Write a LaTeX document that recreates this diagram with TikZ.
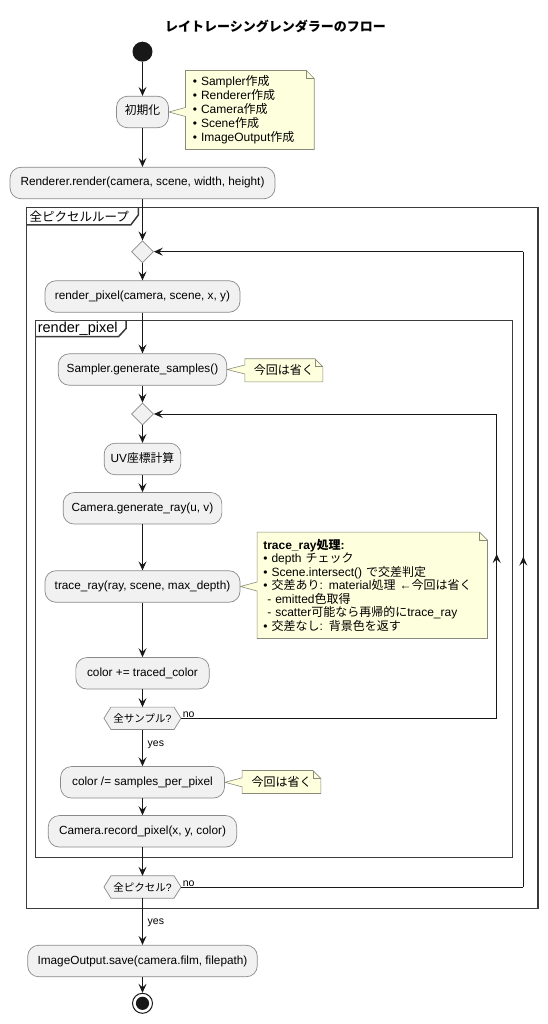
\documentclass[tikz,border=0pt]{standalone}
\usepackage{fontspec}
\setmainfont{Liberation Sans}
\newfontfamily\jp{Noto Sans CJK JP}
\newcommand\J[1]{{\jp #1}}
\usetikzlibrary{arrows.meta,shapes.geometric,calc,backgrounds,decorations.markings}
\definecolor{boxfill}{HTML}{F1F1F1}
\definecolor{boxline}{HTML}{8A8A8A}
\definecolor{ink}{HTML}{181818}
\definecolor{notefill}{HTML}{FEFFDD}
\definecolor{noteline}{HTML}{8A8A7A}
\tikzset{
  actbox/.style={draw=boxline, fill=boxfill, rounded corners=11pt, line width=0.7pt,
    minimum height=31.5pt, inner xsep=4pt, inner ysep=0pt,
    font=\fontsize{11.8}{14}\selectfont, text height=8.6pt, text depth=2.6pt},
  decis/.style={diamond, aspect=1, draw=boxline, fill=boxfill, line width=0.7pt,
    minimum width=22pt, minimum height=22pt, inner sep=0pt},
  hexnode/.style={rectangle, minimum width=76.7pt, minimum height=22pt, inner sep=0pt,
    font=\fontsize{10.5}{12}\selectfont},
  hexline/.style={draw=boxline, fill=boxfill, line width=0.7pt},
  conn/.style={draw=ink, line width=1pt, -{Stealth[length=9pt,width=8pt,inset=3.5pt]}},
  plainconn/.style={draw=ink, line width=1pt},
  midup/.style={postaction={decorate}, decoration={markings,
    mark=at position #1 with {\arrow{Stealth[length=9pt,width=8pt,inset=3.5pt]}}}},
  notenode/.style={rectangle, inner ysep=0pt, font=\fontsize{12}{14}\selectfont},
  noteshape/.style={draw=noteline, fill=notefill, line width=0.6pt, line join=miter},
  frameline/.style={draw=ink!85, line width=1.5pt},
  lbl/.style={font=\fontsize{10.5}{12}\selectfont, inner sep=0.5pt},
}
\begin{document}
\begin{tikzpicture}[x=1pt,y=-1pt]
\useasboundingbox (0,0) rectangle (548,1024);

% title
\node[font=\fontsize{13}{15}\selectfont\bfseries] (title) at (275.5,26.7) {\J{レイトレーシングレンダラーのフロー}};

% frames
\draw[frameline] (26.7,207.3) rectangle (538,908.7);
\draw[frameline] (26.7,225) -- (130.7,225) -- (138.3,215) -- (138.3,207.3);
\node[anchor=west, inner sep=0pt, font=\fontsize{12.5}{14}\selectfont] (tabouter) at (29.5,216.2) {\J{全ピクセルループ}};
\draw[frameline] (35.7,320.7) rectangle (512.3,857.5);
\draw[frameline] (35.7,336.7) -- (118.5,336.7) -- (126,328.5) -- (126,320.7);
\node[anchor=west, inner sep=0pt, font=\fontsize{14.5}{16}\selectfont] (tabinner) at (37.6,328.5) {render\_pixel};

% activity nodes
\node[circle, fill=ink, minimum size=20pt, inner sep=0pt] (start) at (142.5,51.7) {};
\node[actbox, minimum width=52pt] (init) at (142.5,112) {\J{初期化}};
\node[actbox, minimum width=265pt] (render) at (142.5,183) {Renderer.render(camera, scene, width, height)};
\node[decis] (d1) at (142.5,251.7) {};
\node[actbox, minimum width=195pt] (rpix) at (142.5,296.5) {render\_pixel(camera, scene, x, y)};
\node[actbox, minimum width=168.4pt] (sampler) at (142.5,369.5) {Sampler.generate\_samples()};
\node[decis] (d2) at (142.5,414) {};
\node[actbox, minimum width=76.7pt] (uv) at (142.5,459) {UV\J{座標計算}};
\node[actbox, minimum width=158.7pt] (genray) at (142.5,508.3) {Camera.generate\_ray(u, v)};
\node[actbox, minimum width=195pt] (trace) at (142.5,586.5) {trace\_ray(ray, scene, max\_depth)};
\node[actbox, minimum width=133.3pt] (accum) at (142.5,673.3) {color += traced\_color};
\node[hexnode] (hs) at (142.5,718.3) {\J{全サンプル}?};
\node[actbox, minimum width=164pt] (divide) at (142.5,782.3) {color /= samples\_per\_pixel};
\node[actbox, minimum width=188.4pt] (record) at (142.5,831.3) {Camera.record\_pixel(x, y, color)};
\node[hexnode] (hp) at (142.5,887) {\J{全ピクセル}?};
\node[actbox, minimum width=229.6pt] (save) at (142.5,961) {ImageOutput.save(camera.film, filepath)};
\node[circle, draw=ink, line width=1pt, fill=white, minimum size=20pt, inner sep=0pt] (end) at (142.5,1003.3) {};
\fill[ink] (end.center) circle (6.6pt);

% hexagons
\begin{scope}[on background layer]
\foreach \h in {hs,hp}{
  \path[hexline] (\h.west) -- ([xshift=7pt]\h.north west) -- ([xshift=-7pt]\h.north east)
    -- (\h.east) -- ([xshift=-7pt]\h.south east) -- ([xshift=7pt]\h.south west) -- cycle;
}
\end{scope}

% notes
\node[notenode, minimum width=128.3pt, minimum height=78.6pt, text width=114pt, inner xsep=7.2pt, align=left] (n1) at (249.85,110)
  {\textbullet\ Sampler\J{作成}\\ \textbullet\ Renderer\J{作成}\\ \textbullet\ Camera\J{作成}\\ \textbullet\ Scene\J{作成}\\ \textbullet\ ImageOutput\J{作成}};
\node[notenode, minimum width=77.7pt, minimum height=22.7pt] (n2) at (283.85,370.3) {\J{今回は省く}};
\node[notenode, font=\fontsize{12}{13.5}\selectfont, minimum width=230pt, minimum height=106pt, text width=218pt, inner xsep=6pt, align=left] (n3) at (372.3,585.3)
  {\textbf{trace\_ray\J{処理}:}\\
   \textbullet\ depth \J{チェック}\\
   \textbullet\ Scene.intersect() \J{で交差判定}\\
   \textbullet\ \J{交差あり}: material\J{処理} ←\J{今回は省く}\\
   \ - emitted\J{色取得}\\
   \ - scatter\J{可能なら再帰的に}trace\_ray\\
   \textbullet\ \J{交差なし}: \J{背景色を返す}};
\node[notenode, minimum width=78.4pt, minimum height=22.6pt] (n4) at (281.5,782) {\J{今回は省く}};

\begin{scope}[on background layer]
\foreach \n/\b in {n1/init,n2/sampler,n3/trace,n4/divide}{
  \path[noteshape] (\n.north west) -- ([xshift=-8pt]\n.north east) -- ([yshift=-8pt]\n.north east)
    -- (\n.south east) -- (\n.south west) -- ($(\n.west|-\b.east)+(0,4.5)$) -- (\b.east)
    -- ($(\n.west|-\b.east)+(0,-4.5)$) -- cycle;
  \draw[noteshape, fill=none] ([xshift=-8pt]\n.north east) -- ++(0,8) -- ++(8,0);
}
\end{scope}

% connectors
\draw[conn] (start) -- (init);
\draw[conn] (init) -- (render);
\draw[conn] (render) -- (d1);
\draw[conn] (d1) -- (rpix);
\draw[conn] (rpix) -- (sampler);
\draw[conn] (sampler) -- (d2);
\draw[conn] (d2) -- (uv);
\draw[conn] (uv) -- (genray);
\draw[conn] (genray) -- (trace);
\draw[conn] (trace) -- (accum);
\draw[conn] (accum) -- (hs.north);
\draw[conn] (hs.south) -- (divide);
\draw[conn] (divide) -- (record);
\draw[conn] (record) -- (hp.north);
\draw[conn] (hp.south) -- (save);
\draw[conn] (save) -- (end);

% loop backs
\coordinate (lx1) at (496.7,0);
\coordinate (lx2) at (523.3,0);
\draw[plainconn] (hs.east) -- (hs.east -| lx1);
\draw[plainconn, midup=0.54] (hs.east -| lx1) -- (d2.east -| lx1);
\draw[conn] (d2.east -| lx1) -- (d2.east);
\draw[plainconn] (hp.east) -- (hp.east -| lx2);
\draw[plainconn, midup=0.52] (hp.east -| lx2) -- (d1.east -| lx2);
\draw[conn] (d1.east -| lx2) -- (d1.east);

% labels
\node[lbl, anchor=south west] (no1) at ([xshift=1pt]hs.east) {no};
\node[lbl, anchor=south west] (no2) at ([xshift=1pt]hp.east) {no};
\node[lbl, anchor=west] (yes1) at (147,745) {yes};
\node[lbl, anchor=west] (yes2) at (147,922.7) {yes};
\end{tikzpicture}
\end{document}
